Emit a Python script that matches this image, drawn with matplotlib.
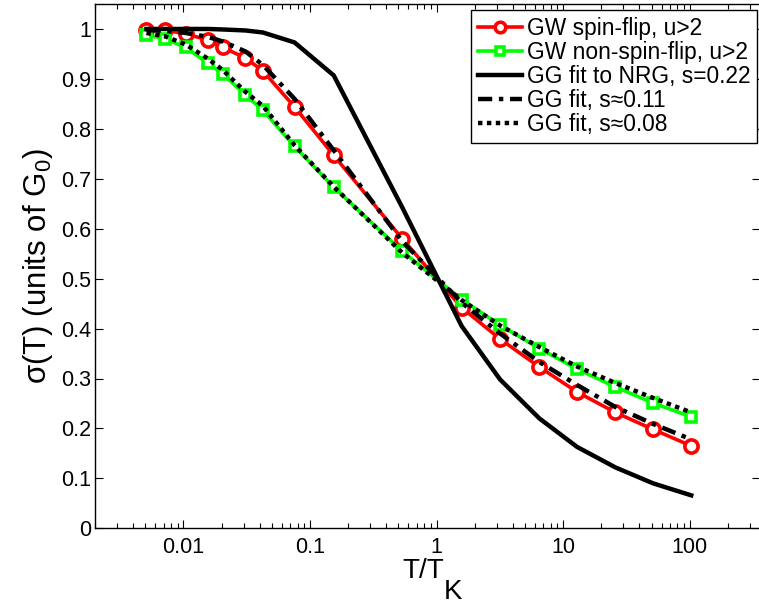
import matplotlib
matplotlib.use("Agg")
import matplotlib.pyplot as plt
from matplotlib.ticker import FixedLocator, FixedFormatter, LogLocator, NullFormatter

plt.rcParams['font.family'] = ['Liberation Sans', 'DejaVu Sans']
plt.rcParams['mathtext.fontset'] = 'custom'
plt.rcParams['mathtext.rm'] = 'Liberation Sans'

# T/T_K sample points
t_ratio = [0.0051, 0.0072, 0.0104, 0.0157, 0.0204, 0.0309, 0.0424, 0.0755, 0.154,
           0.535, 1.58, 3.18, 6.5, 12.9, 25.9, 51.5, 103]

gw_spin_flip = [0.998, 0.998, 0.99, 0.978, 0.963, 0.942, 0.916, 0.844, 0.747,
                0.58, 0.442, 0.379, 0.323, 0.273, 0.232, 0.198, 0.165]
gw_non_spin_flip = [0.988, 0.98, 0.963, 0.931, 0.91, 0.868, 0.837, 0.765, 0.683,
                    0.555, 0.458, 0.407, 0.36, 0.319, 0.283, 0.251, 0.223]
gg_nrg = [1.0, 1.0, 1.0, 1.0, 0.999, 0.997, 0.993, 0.973, 0.907,
          0.643, 0.405, 0.298, 0.22, 0.163, 0.122, 0.09, 0.066]
gg_s011 = [0.998, 0.996, 0.992, 0.984, 0.975, 0.955, 0.928, 0.86, 0.757,
           0.575, 0.452, 0.39, 0.333, 0.287, 0.243, 0.209, 0.178]
gg_s008 = [0.992, 0.985, 0.969, 0.94, 0.918, 0.874, 0.846, 0.767, 0.684,
           0.552, 0.457, 0.406, 0.363, 0.324, 0.291, 0.261, 0.232]

labels = ["GW spin-flip, u>2", "GW non-spin-flip, u>2", "GG fit to NRG, s=0.22",
          "GG fit, s\u22480.11", "GG fit, s\u22480.08"]

x_ticks = [0.01, 0.1, 1, 10, 100]
x_tick_labels = ["0.01", "0.1", "1", "10", "100"]
y_ticks = [0, 0.1, 0.2, 0.3, 0.4, 0.5, 0.6, 0.7, 0.8, 0.9, 1.0]

fig = plt.figure(figsize=(7.59, 6.08), dpi=100)
ax = fig.add_axes([95 / 759, (608 - 528.3) / 608, (760 - 95) / 759, 524.3 / 608])

ax.plot(t_ratio, gw_spin_flip, '-o', color='red', lw=2.6, ms=9.5, mew=2.6,
        mfc='white', label=labels[0])
ax.plot(t_ratio, gw_non_spin_flip, '-s', color='#00ff00', lw=2.6, ms=7.5, mew=2.6,
        mfc='white', label=labels[1])
ax.plot(t_ratio, gg_nrg, '-', color='black', lw=3.2, label=labels[2])
ax.plot(t_ratio, gg_s011, color='black', lw=3.2, ls=(0, (3.2, 1.5, 1, 1.5)), label=labels[3])
ax.plot(t_ratio, gg_s008, color='black', lw=3.2, ls=(0, (1, 1)), label=labels[4])

ax.set_xscale('log')
ax.set_xlim(0.002, 360)
ax.set_ylim(0, 1.05)

ax.xaxis.set_major_locator(FixedLocator(x_ticks))
ax.xaxis.set_major_formatter(FixedFormatter(x_tick_labels))
ax.xaxis.set_minor_locator(LogLocator(base=10, subs=range(2, 10), numticks=20))
ax.xaxis.set_minor_formatter(NullFormatter())
ax.set_yticks(y_ticks)
ax.set_yticklabels(['%g' % v for v in y_ticks])

ax.tick_params(which='both', direction='in', top=True, right=True, labelsize=15.5, width=0.8)
ax.tick_params(which='major', length=6)
ax.tick_params(which='minor', length=3.5)
ax.tick_params(axis='x', pad=6.5)
ax.tick_params(axis='y', pad=3)
for sp in ax.spines.values():
    sp.set_linewidth(1.0)

# x label with a full-size, lowered K as in the original
ax.set_xlabel('T/T', fontsize=20)
ax.xaxis.set_label_coords(0.493, -0.057)
ax.annotate('K', xy=(1, 0), xycoords=ax.xaxis.label, xytext=(0, 4),
            textcoords='offset points', ha='left', va='top', fontsize=20)
ax.set_ylabel(r'σ(T) (units of G$_\mathregular{0}$)', fontsize=22.5, labelpad=4)

leg = ax.legend(loc='upper right', bbox_to_anchor=(757 / 759, 1 - 10 / 608),
                bbox_transform=fig.transFigure, borderaxespad=0,
                fontsize=16.4, fancybox=False, edgecolor='black',
                framealpha=1, handlelength=1.9, handletextpad=0.22, labelspacing=0.05,
                borderpad=0.3, markerscale=0.8)
leg.get_frame().set_linewidth(1.0)

fig.savefig('out.png', dpi=100)
